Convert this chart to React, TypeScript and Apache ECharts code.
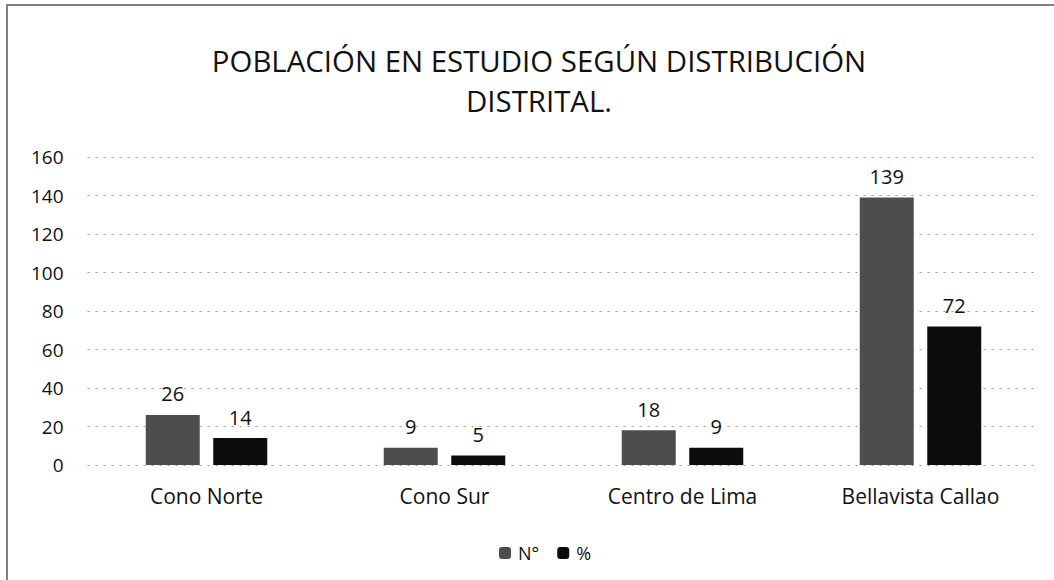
import React, { useEffect, useRef } from "react";
import * as echarts from "echarts";

const categories = ["Cono Norte", "Cono Sur", "Centro de Lima", "Bellavista Callao"];
const countValues = [26, 9, 18, 139];
const percentValues = [14, 5, 9, 72];
const seriesNames = ["N°", "%"];
const titleText = "POBLACIÓN EN ESTUDIO SEGÚN DISTRIBUCIÓN\nDISTRITAL.";

export default function App() {
  const ref = useRef<HTMLDivElement>(null);
  useEffect(() => {
    if (!ref.current) return;
    const chart = echarts.init(ref.current, undefined, { renderer: "svg" });
    const font = "'Open Sans', 'Noto Sans', sans-serif";
    const labelStyle = {
      show: true,
      position: "top",
      distance: 11,
      fontFamily: font,
      fontSize: 20,
      color: "#111",
    };
    chart.setOption({
      animation: false,
      backgroundColor: "#ffffff",
      title: {
        text: titleText,
        left: 534,
        textAlign: "center",
        top: 36,
        textStyle: {
          fontFamily: font,
          fontSize: 29.4,
          fontWeight: "normal",
          color: "#111",
          lineHeight: 40,
        },
      },
      legend: {
        bottom: 13,
        left: 494,
        itemWidth: 12,
        itemHeight: 12,
        itemGap: 18,
        textStyle: { fontFamily: font, fontSize: 18, color: "#111", padding: [0, 0, 0, 2] },
        data: seriesNames,
      },
      grid: { left: 87.5, right: 14.5, top: 157, bottom: 115, containLabel: false },
      xAxis: {
        type: "category",
        data: categories,
        axisLine: { show: false },
        axisTick: { show: false },
        axisLabel: { fontFamily: font, fontSize: 21, color: "#111", margin: 20 },
      },
      yAxis: {
        type: "value",
        min: 0,
        max: 160,
        interval: 20,
        axisLine: { show: false },
        axisTick: { show: false },
        axisLabel: { fontFamily: font, fontSize: 19, color: "#111", margin: 24 },
        splitLine: { lineStyle: { color: "#9a9a9a", type: [2, 6], width: 1 } },
      },
      graphic: [
        {
          type: "rect",
          shape: { x: 7, y: 5, width: 1100, height: 600 },
          style: { fill: "none", stroke: "#555", lineWidth: 1.5 },
          silent: true,
        },
      ],
      series: [
        {
          name: seriesNames[0],
          type: "bar",
          data: countValues,
          barWidth: 54,
          barGap: "25%",
          itemStyle: { color: "#4d4d4d" },
          label: labelStyle,
        },
        {
          name: seriesNames[1],
          type: "bar",
          data: percentValues,
          barWidth: 54,
          itemStyle: { color: "#0c0c0c" },
          label: labelStyle,
        },
      ],
    });
    return () => chart.dispose();
  }, []);
  return (
    <div
      ref={ref}
      style={{ position: "absolute", left: 0, top: 0, width: 1054, height: 580 }}
    />
  );
}
